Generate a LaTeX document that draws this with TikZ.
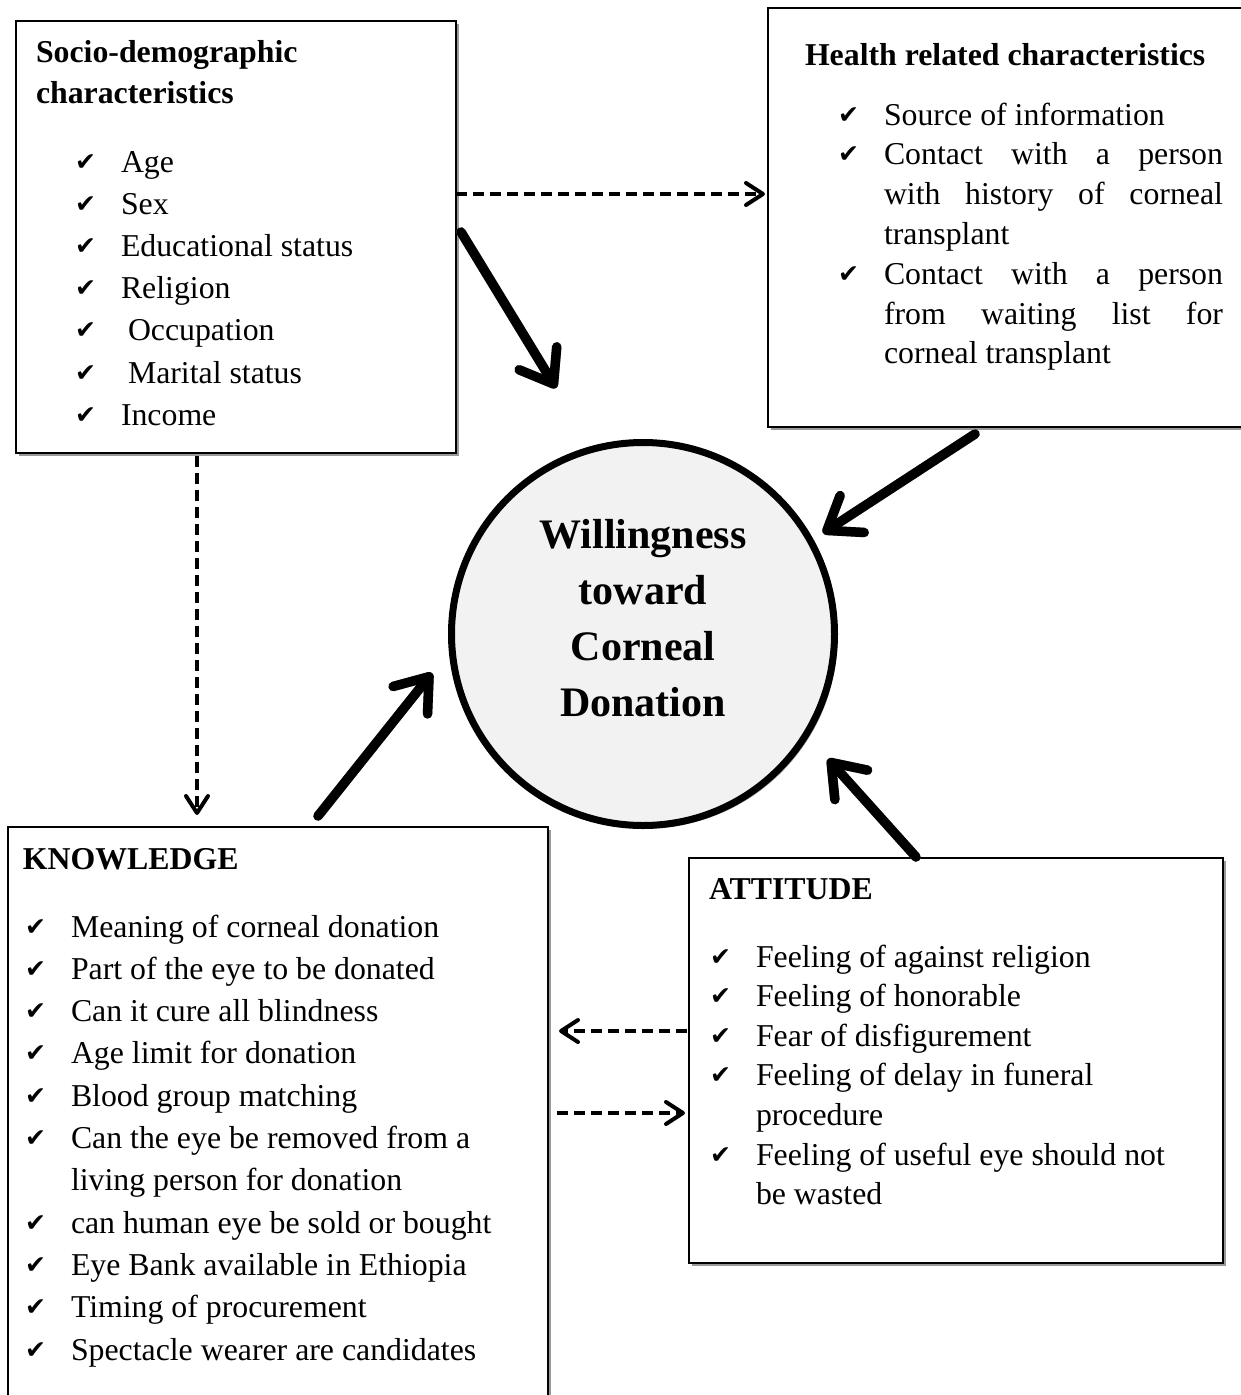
\documentclass[tikz,border=0pt]{standalone}
\usepackage{fontspec}
\setmainfont{Liberation Serif}
\newfontfamily\chkfont{DejaVu Sans}
\usetikzlibrary{arrows.meta,shadows}
\newlength\ckw
\setlength\ckw{46pt}
\newcommand\ckmark{\makebox[\ckw][l]{\raisebox{2pt}{\fontsize{25}{25}\chkfont ✔}}}
\newcommand\ckitem[1]{\noindent\hangindent=\ckw\hangafter=1 \ckmark#1\par}
\newcommand\listfont[1]{\fontsize{31.8}{#1}\selectfont}
\newcommand\titlefont{\fontsize{31.8}{41}\selectfont\bfseries}
\definecolor{shadowgray}{gray}{0.6}
\definecolor{circfill}{gray}{0.95}
\begin{document}
\begin{tikzpicture}[x=1pt, y=-1pt,
  boxframe/.style={draw=black, line width=2pt, fill=white, rectangle, inner sep=0pt, anchor=north west,
    drop shadow={shadow xshift=3pt, shadow yshift=-3pt, fill=shadowgray, opacity=1}},
  txt/.style={inner sep=0pt, outer sep=0pt, anchor=base west},
  bigarrow/.style={line width=9.5pt, line cap=round, -{Straight Barb[length=30pt,width=44pt,round]}},
  bigshadow/.style={bigarrow, draw=shadowgray, shift={(2.5,2.5)}},
  dasharrow/.style={line width=4pt, dash pattern=on 11pt off 6pt, -{Straight Barb[length=17pt,width=22pt,round]}},
]
\useasboundingbox (0,0) rectangle (1241,1395);
\clip (0,0) rectangle (1241,1395);

% boxes
\node[boxframe, minimum width=440pt, minimum height=432pt] (socio) at (15,20) {};
\node[boxframe, minimum width=490pt, minimum height=419pt] (health) at (767,7) {};
\node[boxframe, minimum width=540pt, minimum height=600pt] (know) at (7,826) {};
\node[boxframe, minimum width=534pt, minimum height=405pt] (att) at (688,857) {};

% central circle
\node[circle, draw=black, line width=7pt, fill=circfill, minimum size=383pt, inner sep=0pt,
  drop shadow={shadow xshift=3pt, shadow yshift=-3pt, fill=shadowgray, opacity=1}] (will) at (643,634) {};
\node[inner sep=0pt, anchor=base] (willtxt) at (643,548)
  {\parbox[t]{330pt}{\centering\fontsize{42}{56.3}\selectfont\bfseries Willingness\\toward\\Corneal\\Donation}};

% socio-demographic
\node[txt] (sociotitle) at (36,62) {\parbox[t]{410pt}{\titlefont Socio-demographic\\characteristics}};
\node[txt] (sociolist) at (75,172) {\parbox[t]{370pt}{\listfont{42.2}\raggedright
  \ckitem{Age}
  \ckitem{Sex}
  \ckitem{Educational status}
  \ckitem{Religion}
  \ckitem{\hspace{7pt}Occupation}
  \ckitem{\hspace{7pt}Marital status}
  \ckitem{Income}}};

% health related
\node[txt] (healthtitle) at (805,65) {\parbox[t]{430pt}{\titlefont Health related characteristics}};
\node[txt] (healthlist) at (838,125) {\parbox[t]{385pt}{\listfont{39.8}
  \ckitem{Source of information}
  \ckitem{Contact with a person \linebreak with history of corneal \linebreak transplant}
  \ckitem{Contact with a person \linebreak from waiting list for \linebreak corneal transplant}}};

% knowledge
\node[txt] (knowtitle) at (23,869) {\parbox[t]{500pt}{\titlefont KNOWLEDGE}};
\node[txt] (knowlist) at (25,937) {\parbox[t]{515pt}{\listfont{42.3}\raggedright
  \ckitem{Meaning of corneal donation}
  \ckitem{Part of the eye to be donated}
  \ckitem{Can it cure all blindness}
  \ckitem{Age limit for donation}
  \ckitem{Blood group matching}
  \ckitem{Can the eye be removed from a\newline living person for donation}
  \ckitem{can human eye be sold or bought}
  \ckitem{Eye Bank available in Ethiopia}
  \ckitem{Timing of procurement}
  \ckitem{Spectacle wearer are candidates}}};

% attitude
\node[txt] (atttitle) at (709,899) {\parbox[t]{500pt}{\titlefont ATTITUDE}};
\node[txt] (attlist) at (710,967) {\parbox[t]{505pt}{\listfont{39.6}\raggedright
  \ckitem{Feeling of against religion}
  \ckitem{Feeling of honorable}
  \ckitem{Fear of disfigurement}
  \ckitem{Feeling of delay in funeral\newline procedure}
  \ckitem{Feeling of useful eye should not\newline be wasted}}};

% arrow end points
\coordinate (a1s) at (461,232); \coordinate (a1e) at (556,388);
\coordinate (a2s) at (975,434); \coordinate (a2e) at (823,533);
\coordinate (a3s) at (318,816); \coordinate (a3e) at (432,673);
\coordinate (a4s) at (916,857); \coordinate (a4e) at (828,759);
\coordinate (d1s) at (456,194); \coordinate (d1e) at (765,194);
\coordinate (d2s) at (197,456); \coordinate (d2e) at (197,815);
\coordinate (d3s) at (687,1031); \coordinate (d3e) at (559,1031);
\coordinate (d4s) at (557,1113); \coordinate (d4e) at (685,1113);

% solid thick arrows with shadow
\foreach \s/\e in {a1s/a1e, a2s/a2e, a3s/a3e, a4s/a4e} {
  \draw[bigshadow] (\s) -- (\e);
  \draw[bigarrow] (\s) -- (\e);
}
% dashed arrows
\foreach \s/\e in {d1s/d1e, d2s/d2e, d3s/d3e, d4s/d4e} {
  \draw[dasharrow] (\s) -- (\e);
}
\end{tikzpicture}
\end{document}
